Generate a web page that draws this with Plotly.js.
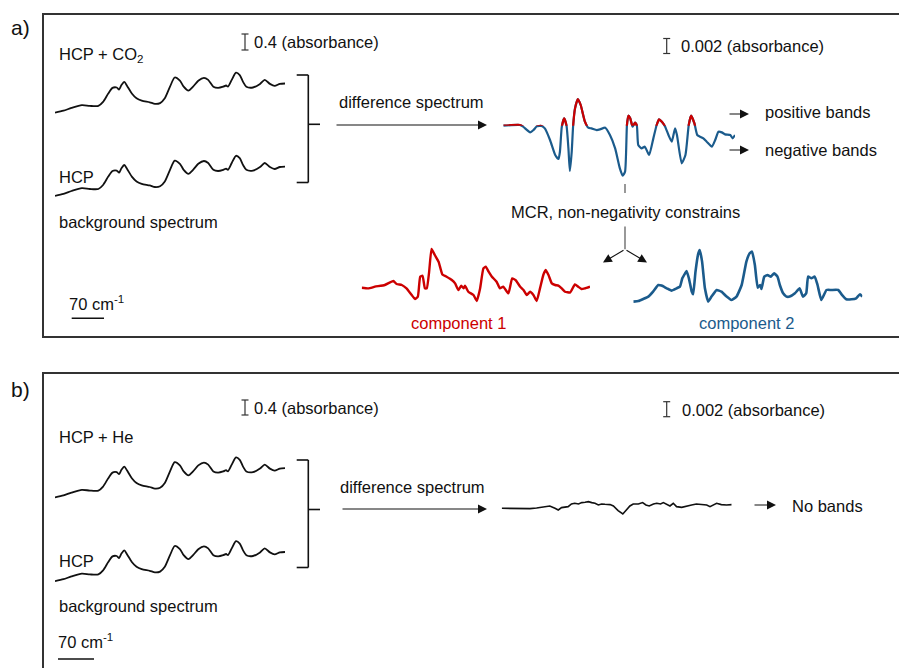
<!DOCTYPE html>
<html>
<head>
<meta charset="utf-8">
<script src="https://cdn.plot.ly/plotly-3.0.1.min.js"></script>
<style>html,body{margin:0;padding:0;background:#fff;}#chart{width:899px;height:668px;}</style>
</head>
<body>
<div id="chart"></div>
<script>
// ---------- DATA ----------
// background spectra (relative wavenumber, cm-1 ; absorbance)
const bgWn = [0,18,35,57,74,92,102,113,122,131,136,141,147,153,163,173,184,201,212,223,233,244,254,265,273,283,293,304,316,325,336,346,357,363,367,375,384,392,399,406,420,435,445,456,466,477,488];
const hcpCO2A = [0.01,0.06,0.13,0.20,0.18,0.18,0.28,0.49,0.63,0.64,0.59,0.70,0.78,0.68,0.49,0.37,0.31,0.27,0.23,0.25,0.37,0.66,0.89,0.81,0.66,0.56,0.66,0.81,0.88,0.83,0.66,0.63,0.66,0.69,0.66,0.83,1.01,0.95,0.78,0.66,0.64,0.73,0.83,0.73,0.68,0.73,0.74];
const hcpA_a   = [0.01,0.06,0.13,0.20,0.18,0.18,0.28,0.49,0.63,0.64,0.59,0.70,0.78,0.68,0.49,0.37,0.31,0.27,0.23,0.25,0.37,0.66,0.89,0.81,0.66,0.56,0.66,0.81,0.88,0.83,0.66,0.63,0.66,0.69,0.66,0.83,1.01,0.95,0.78,0.66,0.64,0.73,0.83,0.73,0.68,0.73,0.74];
const hcpHeA   = [0.01,0.06,0.13,0.20,0.18,0.18,0.28,0.49,0.63,0.64,0.59,0.70,0.78,0.68,0.49,0.37,0.31,0.27,0.23,0.25,0.37,0.66,0.89,0.81,0.66,0.56,0.66,0.81,0.88,0.83,0.66,0.63,0.66,0.69,0.66,0.83,1.01,0.95,0.78,0.66,0.64,0.73,0.83,0.73,0.68,0.73,0.74];
const hcpA_b   = [0.01,0.06,0.13,0.20,0.18,0.18,0.28,0.49,0.63,0.64,0.59,0.70,0.78,0.68,0.49,0.37,0.31,0.27,0.23,0.25,0.37,0.66,0.89,0.81,0.66,0.56,0.66,0.81,0.88,0.83,0.66,0.63,0.66,0.69,0.66,0.83,1.01,0.95,0.78,0.66,0.64,0.73,0.83,0.73,0.68,0.73,0.74];

// difference spectrum a) (HCP + CO2 minus HCP), milli-absorbance
const diffWn = [0,35,42,57,64,71,81,88,99,110,117,120,124,129,134,138,141,145,148,152,158,164,173,180,187,198,205,216,226,237,247,253,258,262,265,269,274,279,283,286,293,300,309,318,325,330,336,343,350,357,364,368,378,386,393,398,405,411,417,424,431,442,449,456,463,470,481,486,491];
const diffA = [0,0.09,-0.13,-0.89,-0.58,-0.09,-0.04,-0.36,-1.91,-3.91,-4.44,-3.47,-0.13,0.98,0,-3.02,-6.04,-3.47,0,2.31,3.56,2.76,0.53,-0.27,-0.36,-0.58,-0.49,-0.27,-1.24,-3.02,-5.69,-6.67,-6.13,0.09,1.33,0.98,-0.13,0.40,0,-2.58,-3.02,-2.80,-3.91,-1.69,0.09,0.84,0.53,-0.13,-1.24,-2.13,-0.36,-1.24,-5.02,-3.91,0.09,1.33,0.31,-1.24,-1.47,-1.69,-2.13,-2.80,-1.91,-0.80,-0.89,-1.16,-1.24,-1.69,-1.24];

// MCR components (arbitrary units)
const comp1Wn = [0,14,28,49,67,74,85,95,106,113,119,124,129,134,138,143,148,155,163,171,180,191,198,205,211,216,219,226,237,244,251,258,263,269,276,286,293,300,311,319,326,336,343,350,357,364,371,378,385,390,396,403,410,417,424,431,442,452,459,466,473,484];
const comp1 = [1.40,1.33,1.50,1.67,2.07,1.77,1.67,1.33,0.67,0.27,0.50,2.50,2.60,1.33,1.33,3.00,5.27,4.67,4.00,2.73,2.50,2.17,1.83,1.17,1.60,1.33,1.60,1.00,0.67,0.07,1.33,3.33,3.50,3.00,2.50,2.00,1.33,1.50,0.83,2.33,2.17,1.50,1.17,0.67,1.00,0.67,0.07,1.33,2.67,3.17,2.67,1.83,1.67,1.60,1.33,1.00,0.93,1.73,1.50,1.27,1.33,1.50];
const comp2Wn = [0,11,21,32,42,53,60,71,81,92,99,104,110,113,118,124,127,132,138,141,146,152,159,166,177,187,198,208,219,230,240,247,252,258,264,269,272,278,285,292,299,306,311,318,325,332,343,353,360,367,371,378,385,391,399,410,420,435,442,452,463,473,481,486];
const comp2 = [0.17,0.23,0.43,0.67,1.17,1.83,1.77,1.50,1.27,1.50,1.67,2.50,3.00,3.23,2.50,1.17,0.90,3.17,5.00,5.33,4.17,1.50,0.17,0.67,1.33,1.17,0.67,0.33,0.67,1.83,4.17,5.00,5.17,3.83,1.57,1.83,1.43,2.67,2.83,2.67,3.00,2.67,1.83,1.00,0.67,0.67,1.00,1.50,0.67,1.00,2.67,2.50,2.67,1.83,0.33,1.33,1.33,1.33,0.90,0.40,0.40,0.50,0.90,0.67];

// difference spectrum b) (HCP + He minus HCP), milli-absorbance
const bDiffWn = [0,18,32,46,60,74,88,102,113,120,127,134,141,148,155,163,170,177,184,191,198,205,212,219,230,237,247,257,265,272,279,290,299,306,313,322,329,337,343,350,357,364,371,382,392,403,413,424,435,442,449,456,466,477,488];
const bDiffA = [0,0,-0.04,-0.09,-0.04,0.04,0.13,0.31,0,-0.22,0.09,0.13,0.22,0.58,0.67,0.58,0.76,0.80,0.89,0.76,0.67,0.44,0.58,0.53,0.49,0.31,-0.31,-0.76,-0.22,0.31,0.58,0.58,0.76,0.44,0.31,0.58,0.67,0.58,0.76,0.58,0.31,0.67,0.22,0.13,0.31,0.44,0.58,0.49,0.44,0.22,0.40,0.67,0.49,0.44,0.49];

// texts
const labelA = 'a)', labelB = 'b)';
const txtHcpCO2 = 'HCP + CO<sub>2</sub>', txtHcpHe = 'HCP + He', txtHcp = 'HCP';
const txtBg = 'background spectrum', txtScaleX = '70 cm<sup>-1</sup>';
const txtAbs1 = '0.4 (absorbance)', txtAbs2 = '0.002 (absorbance)';
const txtDiff = 'difference spectrum', txtPos = 'positive bands', txtNeg = 'negative bands', txtNo = 'No bands';
const txtMCR = 'MCR, non-negativity constrains', txtC1 = 'component 1', txtC2 = 'component 2';

// ---------- LAYOUT HELPERS ----------
const W = 899, H = 668;
const px = X => X / W, py = Y => 1 - Y / H;
const RED = '#cc0000', BLUE = '#1b5b8c', INK = '#111111', GREY = '#444444';
const FONT = 'Liberation Sans, Arial, Helvetica, sans-serif';

const layout = {
  width: W, height: H, margin: {l:0, r:0, t:0, b:0},
  paper_bgcolor: '#ffffff', plot_bgcolor: 'rgba(0,0,0,0)',
  showlegend: false, shapes: [], annotations: []
};
const traces = [];
let axN = 0;
function addSpec(wn, vals, X0, X1, zeroY, ppu, lo, hi, color, width, smooth) {
  axN++;
  const sx = axN === 1 ? '' : String(axN);
  layout['xaxis' + sx] = {domain:[px(X0), px(X1)], range:[wn[0], wn[wn.length-1]], visible:false, anchor:'y'+sx, fixedrange:true};
  layout['yaxis' + sx] = {domain:[py(zeroY - lo*ppu), py(zeroY - hi*ppu)], range:[lo, hi], visible:false, anchor:'x'+sx, fixedrange:true};
  traces.push({x: wn, y: vals, xaxis: 'x'+sx, yaxis: 'y'+sx, type:'scatter', mode:'lines',
    line: smooth ? {color, width, shape:'spline', smoothing: smooth} : {color, width},
    hoverinfo:'skip'});
}
function txt(X, Y, t, o) {
  o = o || {};
  layout.annotations.push({xref:'paper', yref:'paper', x:px(X), y:py(Y), text:t, showarrow:false,
    xanchor:o.xa || 'left', yanchor:'middle',
    font:{family:FONT, size:o.size || 16.5, color:o.color || INK}});
}
function arrow(X0, Y0, X1, Y1, color, w, size) {
  layout.annotations.push({xref:'paper', yref:'paper', x:px(X1), y:py(Y1), ax:X0-X1, ay:Y0-Y1,
    axref:'pixel', ayref:'pixel', text:'', showarrow:true, arrowhead:2, arrowsize:size, arrowwidth:w,
    arrowcolor:color, standoff:0});
}
function line(X0, Y0, X1, Y1, color, w) {
  layout.shapes.push({type:'line', xref:'paper', yref:'paper', x0:px(X0), y0:py(Y0), x1:px(X1), y1:py(Y1),
    line:{color, width:w}});
}
function ibeam(X, Y0, Y1) {
  line(X, Y0, X, Y1, '#333', 1.2);
  line(X-3.5, Y0, X+3.5, Y0, '#333', 1.2);
  line(X-3.5, Y1, X+3.5, Y1, '#333', 1.2);
}
function bracket(Xl, Xv, Xm, Y0, Y1, Ym) {
  line(Xl, Y0, Xv, Y0, INK, 1.6);
  line(Xv, Y0, Xv, Y1, INK, 1.6);
  line(Xl, Y1, Xv, Y1, INK, 1.6);
  line(Xv, Ym, Xm, Ym, INK, 1.6);
}

// ---------- PANEL FRAMES ----------
layout.shapes.push({type:'rect', xref:'paper', yref:'paper', x0:px(43), x1:px(920), y0:py(14), y1:py(337), line:{color:'#333', width:2}});
layout.shapes.push({type:'rect', xref:'paper', yref:'paper', x0:px(43), x1:px(920), y0:py(373), y1:py(700), line:{color:'#333', width:2}});

// ---------- SPECTRA ----------
addSpec(bgWn, hcpCO2A, 55, 285, 113.1, 40, -0.1, 1.1, INK, 1.8, 0.7);
addSpec(bgWn, hcpA_a, 55, 285, 196.2, 40, -0.1, 1.1, INK, 1.8, 0.7);
addSpec(diffWn, diffA, 503.3, 735, 125.7, 7.5, -7.2, 4.2, BLUE, 2.2, 0.5);
addSpec(diffWn, diffA, 503.3, 735, 125.7, 7.5, 0, 4.2, RED, 2.2, 0.5);   // positive part, clipped at baseline
addSpec(comp1Wn, comp1, 361.7, 590, 301.7, 10, -0.3, 5.7, RED, 2.4, 0.4);
addSpec(comp2Wn, comp2, 633.3, 862.3, 303.3, 10, -0.3, 5.7, BLUE, 2.6, 0.4);
addSpec(bgWn, hcpHeA, 55, 285, 497.8, 40, -0.1, 1.1, INK, 1.8, 0.7);
addSpec(bgWn, hcpA_b, 55, 285, 581.6, 40, -0.1, 1.1, INK, 1.8, 0.7);
addSpec(bDiffWn, bDiffA, 501.7, 731.7, 508.3, 7.5, -1.5, 1.5, INK, 1.6, 0);

// ---------- PANEL a) ----------
txt(9, 27, labelA, {size:21});
txt(57, 55, txtHcpCO2);
ibeam(245, 34, 50);
txt(252, 42.5, txtAbs1);
txt(57, 177, txtHcp);
txt(57, 222, txtBg);
txt(67, 303, txtScaleX);
line(71.7, 318.3, 104, 318.3, INK, 1.4);
bracket(296.7, 308.3, 320, 75, 182.5, 124.3);
txt(337, 101.7, txtDiff);
arrow(335, 125, 487, 125, INK, 1.2, 1.5);
ibeam(666.7, 38.5, 53.5);
txt(679, 46, txtAbs2);
arrow(728, 114, 749, 114, INK, 1.2, 1.5);
txt(763, 112, txtPos);
arrow(728, 150, 749, 150, INK, 1.2, 1.5);
txt(763, 150, txtNeg);
line(625, 184, 625, 193, GREY, 1.1);
txt(625, 212, txtMCR, {xa:'center'});
line(625, 226.5, 625, 249.3, GREY, 1.1);
arrow(625, 249.3, 603, 262.5, INK, 1.1, 1.6);
arrow(625, 249.3, 647, 262.5, INK, 1.1, 1.6);
txt(458, 323, txtC1, {xa:'center', color:RED});
txt(746, 323, txtC2, {xa:'center', color:BLUE});

// ---------- PANEL b) ----------
txt(9, 389, labelB, {size:21});
txt(57, 437, txtHcpHe);
ibeam(245, 400, 415);
txt(252, 407.5, txtAbs1);
txt(57, 561, txtHcp);
txt(57, 606, txtBg);
txt(56, 641, txtScaleX);
line(58, 659, 94, 659, INK, 1.4);
bracket(296.7, 308.3, 320, 460, 567.5, 509.5);
txt(338, 487, txtDiff);
arrow(341, 509, 487, 509, INK, 1.2, 1.5);
ibeam(666.7, 401.7, 416.7);
txt(680, 410, txtAbs2);
arrow(753, 505, 776, 505, INK, 1.2, 1.5);
txt(790, 506, txtNo);

Plotly.newPlot('chart', traces, layout, {staticPlot:true, displayModeBar:false});
</script>
</body>
</html>
